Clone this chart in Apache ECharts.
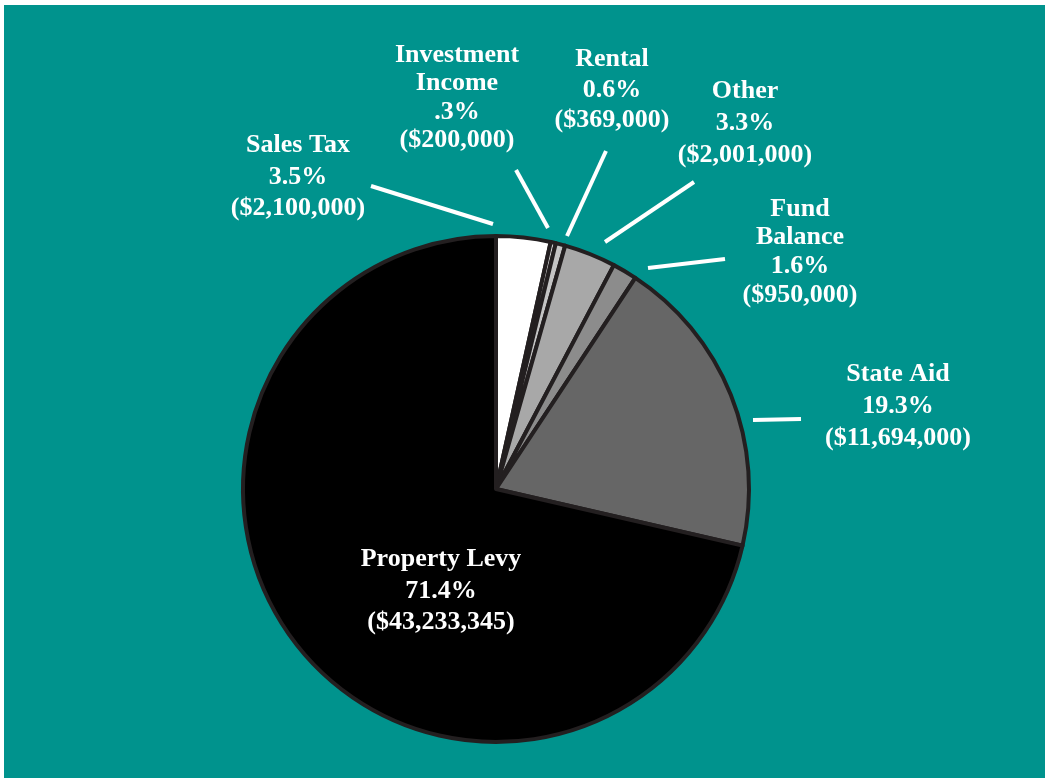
<!DOCTYPE html>
<html>
<head>
    <meta charset="utf-8">
    <title>Revenue pie</title>
    <script src="https://cdn.jsdelivr.net/npm/echarts@6/dist/echarts.min.js"></script>
    <style>
        html, body { margin: 0; padding: 0; background: #fff; }
        #main { position: absolute; left: 4px; top: 5px; width: 1041px; height: 773px; }
    </style>
</head>
<body>
<div id="main"></div>
<script type="text/javascript">
    // data
    var categories = ['Sales Tax', 'Investment\nIncome', 'Rental', 'Other', 'Fund\nBalance', 'State Aid', 'Property Levy'];
    var amounts = [2100000, 200000, 369000, 2001000, 950000, 11694000, 43233345];
    var amountLabels = ['($2,100,000)', '($200,000)', '($369,000)', '($2,001,000)', '($950,000)', '($11,694,000)', '($43,233,345)'];
    var percentLabels = ['3.5%', '.3%', '0.6%', '3.3%', '1.6%', '19.3%', '71.4%'];

    var sliceColors = ['#ffffff', '#d4d4d4', '#c4c4c4', '#a8a8a8', '#8c8c8c', '#666666', '#000000'];

    // page offset of the teal panel
    var OX = 4, OY = 5;
    // label centres, line heights and leader lines, page coords
    var labelPos = [
        { x: 298, y: 177, lh: 31.5, line: [[371, 186], [493, 224]] },
        { x: 457, y: 98, lh: 28.5, line: [[516, 170], [548, 228]] },
        { x: 612, y: 90, lh: 30.5, line: [[606, 151], [567, 236]] },
        { x: 745, y: 123, lh: 32, line: [[694, 182], [605, 242]] },
        { x: 800, y: 252, lh: 28.7, line: [[725, 259], [648, 268]] },
        { x: 898, y: 406, lh: 32, line: [[801, 419], [753, 420]] },
        { x: 441, y: 591, lh: 31.5, line: null }
    ];

    var myChart = echarts.init(document.getElementById('main'));

    var data = categories.map(function (c, i) {
        return {
            name: c,
            value: amounts[i],
            itemStyle: { color: sliceColors[i] },
            label: { lineHeight: labelPos[i].lh },
            labelLine: { show: labelPos[i].line != null }
        };
    });

    myChart.setOption({
        backgroundColor: '#00938d',
        animation: false,
        series: [{
            type: 'pie',
            center: [496 - OX, 489 - OY],
            radius: 253,
            startAngle: 90,
            clockwise: true,
            data: data,
            itemStyle: {
                borderColor: '#231f20',
                borderWidth: 4
            },
            emphasis: { disabled: true },
            label: {
                show: true,
                position: 'outside',
                color: '#ffffff',
                fontFamily: '"Liberation Serif", "Times New Roman", serif',
                fontWeight: 'bold',
                fontSize: 26,
                align: 'center',
                formatter: function (p) {
                    return p.name + '\n' + percentLabels[p.dataIndex] + '\n' + amountLabels[p.dataIndex];
                }
            },
            labelLine: {
                show: true,
                lineStyle: { color: '#ffffff', width: 4 }
            },
            labelLayout: function (params) {
                var lp = labelPos[params.dataIndex];
                var out = {
                    x: lp.x - OX,
                    y: lp.y - OY,
                    align: 'center',
                    verticalAlign: 'middle'
                };
                if (lp.line) {
                    out.labelLinePoints = [
                        [lp.line[0][0] - OX, lp.line[0][1] - OY],
                        [lp.line[1][0] - OX, lp.line[1][1] - OY],
                        [lp.line[1][0] - OX, lp.line[1][1] - OY]
                    ];
                }
                return out;
            }
        }]
    });
</script>
</body>
</html>
